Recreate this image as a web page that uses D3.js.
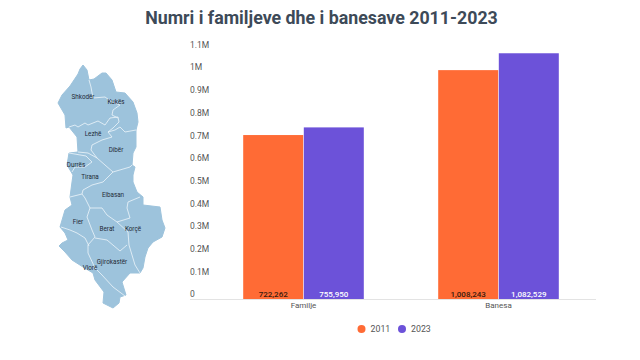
<!DOCTYPE html>
<html>
<head>
<meta charset="utf-8">
<script src="https://cdn.jsdelivr.net/npm/d3@7"></script>
<style>
  html, body { margin: 0; padding: 0; background: #fff; }
  text { font-family: Roboto, sans-serif; }
</style>
</head>
<body>
<script>
const categories = ["Familje", "Banesa"];
const years = ["2011", "2023"];
const values2011 = [722262, 1008243];
const values2023 = [755950, 1082529];
const yTicks = [0, 100000, 200000, 300000, 400000, 500000, 600000, 700000, 800000, 900000, 1000000, 1100000];
const colors = ["#ff6b35", "#6c52d9"];

// map of the counties
const mapOutline = [[83,65],[87,70],[89,80],[94,79],[102,73],[106,73],[112,80],[116,92],[125,93],[133,102],[137,113],[138,122],[136,130],[136,147],[133,153],[132,165],[135,167],[133,175],[133,182],[137,192],[143,197],[143,205],[160,207],[162,220],[165,228],[162,237],[153,242],[148,248],[145,257],[143,268],[140,273],[130,273],[122,282],[126,295],[120,297],[119,303],[113,308],[103,303],[104,292],[95,280],[93,273],[83,267],[72,260],[65,252],[59,246],[62,243],[68,240],[65,233],[60,227],[65,210],[72,205],[70,197],[72,182],[73,175],[67,165],[69,153],[78,152],[77,137],[69,127],[66,128],[65,115],[58,103],[62,95],[70,86],[78,74],[80,69]];
const mapBorders = [
  [[89,80],[91,87],[93,98],[105,97],[112,102],[120,105],[113,110],[112,115],[118,118]],
  [[69,127],[75,125],[78,127],[85,123],[88,125],[98,121],[105,125],[110,118],[118,117],[119,122],[113,128],[108,132],[115,130],[120,127],[125,132],[136,130]],
  [[108,132],[112,137],[102,140],[92,145],[91,150],[97,158],[105,165],[113,172],[130,167],[132,165]],
  [[78,152],[88,153],[97,158]],
  [[69,153],[86,156],[92,162],[85,167],[75,167],[72,172]],
  [[113,172],[103,182],[92,185],[83,190],[82,194]],
  [[70,197],[82,194],[85,198],[90,208],[102,208],[107,215],[117,222],[130,218],[127,208],[128,202],[140,197]],
  [[90,208],[87,217],[92,230],[95,237],[88,245],[88,253]],
  [[61,227],[70,230],[77,233],[85,238],[89,246]],
  [[95,238],[107,240],[120,251],[127,245]],
  [[117,222],[128,232],[129,245],[135,265],[140,273]],
  [[88,253],[95,268],[102,275],[113,287],[125,296]]
];
const mapLabels = ["Shkodër", "Kukës", "Lezhë", "Dibër", "Durrës", "Tirana", "Elbasan", "Fier", "Berat", "Korçë", "Gjirokastër", "Vlorë"];
const mapLabelX = [83, 116, 93, 116, 76, 90, 113, 78, 107, 133, 112, 90];
const mapLabelY = [97, 102, 134, 150, 165, 177, 195, 222, 229, 229, 262, 268];

const width = 640;
const height = 360;

const svg = d3.select("body")
    .append("svg")
    .attr("width", width)
    .attr("height", height)
    .style("display", "block");

svg.append("text")
    .attr("x", 321.5)
    .attr("y", 24)
    .attr("text-anchor", "middle")
    .attr("font-size", 17.8)
    .attr("font-weight", 700)
    .attr("fill", "#3d4a58")
    .text("Numri i familjeve dhe i banesave 2011-2023");

// map
const line = d3.line();
const map = svg.append("g");

map.append("path")
    .attr("d", line(mapOutline) + "Z")
    .attr("fill", "#9dc3dc")
    .attr("stroke", "#9dc3dc")
    .attr("stroke-linejoin", "round");

map.selectAll(".border")
    .data(mapBorders)
    .enter()
    .append("path")
    .attr("class", "border")
    .attr("d", d => line(d))
    .attr("fill", "none")
    .attr("stroke", "#eef5fa")
    .attr("stroke-width", 0.8);

map.selectAll(".county")
    .data(mapLabels)
    .enter()
    .append("text")
    .attr("class", "county")
    .attr("x", (d, i) => mapLabelX[i])
    .attr("y", (d, i) => mapLabelY[i])
    .attr("dy", "0.35em")
    .attr("text-anchor", "middle")
    .attr("font-size", 6.3)
    .attr("fill", "#1f2a36")
    .text(d => d);

// scales
const y = d3.scaleLinear()
    .domain([0, 1100000])
    .range([299, 49.3]);

const x0 = d3.scaleBand()
    .domain(categories)
    .range([206, 596]);

const x1 = d3.scaleBand()
    .domain(years)
    .range([37.2, 157.8])
    .paddingInner(0.01);

const color = d3.scaleOrdinal()
    .domain(years)
    .range(colors);

// y axis, labels sit above the tick position and start at the left
const yAxis = d3.axisLeft(y)
    .tickValues(yTicks)
    .tickSize(0)
    .tickFormat(d => d === 0 ? "0" : (d === 1000000 ? "1M" : (d / 1000000).toFixed(1) + "M"));

const yG = svg.append("g")
    .attr("transform", "translate(190, -1)")
    .call(yAxis);
yG.select(".domain").remove();
yG.selectAll("text")
    .attr("x", 0)
    .attr("dy", "-0.12em")
    .attr("text-anchor", "start")
    .attr("font-family", "Roboto, sans-serif")
    .attr("font-size", 8.5)
    .attr("fill", "#555");

// bars
const rows = years.map((year, i) => ({ year: year, values: i === 0 ? values2011 : values2023 }));

const groups = svg.selectAll(".series")
    .data(rows)
    .enter()
    .append("g")
    .attr("class", "series");

groups.selectAll("rect")
    .data(s => s.values.map((v, i) => ({ year: s.year, category: categories[i], value: v })))
    .enter()
    .append("rect")
    .attr("x", d => x0(d.category) + x1(d.year))
    .attr("y", d => y(d.value))
    .attr("width", x1.bandwidth())
    .attr("height", d => y(0) - y(d.value))
    .attr("fill", d => color(d.year));

groups.selectAll("text")
    .data(s => s.values.map((v, i) => ({ year: s.year, category: categories[i], value: v })))
    .enter()
    .append("text")
    .attr("x", d => x0(d.category) + x1(d.year) + x1.bandwidth() / 2)
    .attr("y", 297)
    .attr("text-anchor", "middle")
    .attr("font-size", 8)
    .attr("font-weight", 500)
    .attr("fill", d => d.year === "2011" ? "#3a1a0c" : "#fff")
    .text(d => d3.format(",")(d.value));

// x axis
const xAxis = d3.axisBottom(x0).tickSize(0).tickPadding(3);

const xG = svg.append("g")
    .attr("transform", "translate(0, 299.5)")
    .call(xAxis);
xG.select(".domain").remove();
xG.selectAll("text")
    .attr("font-family", "Roboto, sans-serif")
    .attr("font-size", 8)
    .attr("fill", "#555");

svg.append("line")
    .attr("x1", 190)
    .attr("x2", 596)
    .attr("y1", 299.5)
    .attr("y2", 299.5)
    .attr("stroke", "#e3e3e3");

// legend
const legendX = d3.scalePoint().domain(years).range([361.5, 402]);

const legend = svg.selectAll(".legend")
    .data(years)
    .enter()
    .append("g")
    .attr("class", "legend")
    .attr("transform", d => "translate(" + legendX(d) + ", 329)");

legend.append("circle")
    .attr("r", 4)
    .attr("fill", d => color(d));

legend.append("text")
    .attr("x", 9)
    .attr("dy", "0.35em")
    .attr("font-size", 8.8)
    .attr("fill", "#555")
    .text(d => d);
</script>
</body>
</html>
